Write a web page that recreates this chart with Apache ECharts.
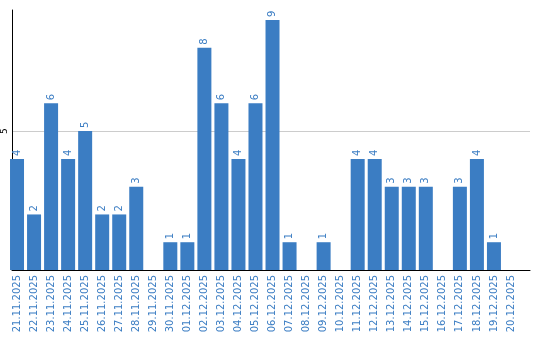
<!DOCTYPE html>
<html><head><meta charset="utf-8">
<script src="https://cdn.jsdelivr.net/npm/echarts@6/dist/echarts.min.js"></script>
<style>html,body{margin:0;padding:0;background:#fff}#c{width:540px;height:340px}</style>
</head><body><div id="c"></div>
<script>
const categories = ['21.11.2025','22.11.2025','23.11.2025','24.11.2025','25.11.2025','26.11.2025','27.11.2025','28.11.2025','29.11.2025','30.11.2025','01.12.2025','02.12.2025','03.12.2025','04.12.2025','05.12.2025','06.12.2025','07.12.2025','08.12.2025','09.12.2025','10.12.2025','11.12.2025','12.12.2025','13.12.2025','14.12.2025','15.12.2025','16.12.2025','17.12.2025','18.12.2025','19.12.2025','20.12.2025'];
const values = [4,2,6,4,5,2,2,3,0,1,1,8,6,4,6,9,1,0,1,0,4,4,3,3,3,0,3,4,1,0];
const yTicks = [5];

const blue = '#3b7dc3';
const font = 'DejaVu Sans';
const chart = echarts.init(document.getElementById('c'), null, {renderer:'canvas'});
chart.setOption({
  animation: false,
  grid: [
    {left: 10, right: 10, top: 10, bottom: 70},
    {left: 8.5, right: 20.5, top: 10, bottom: 70}
  ],
  xAxis: [
    {type:'value', gridIndex:0, min:0, max:1, axisLine:{show:true, onZero:false, lineStyle:{color:'#000', width:1}},
     axisTick:{show:false}, axisLabel:{show:false}, splitLine:{show:false}},
    {type:'category', gridIndex:1, data: categories, axisLine:{show:false}, axisTick:{show:false},
     axisLabel:{interval:0, rotate:90, color: blue, fontFamily: font, fontSize: 10, margin: 5}}
  ],
  yAxis: [
    {type:'value', gridIndex:0, min:0, max:9.36, interval:5,
     axisLine:{show:true, lineStyle:{color:'#000', width:1}}, axisTick:{show:false},
     axisLabel:{rotate:90, color:'#000', fontFamily: font, fontSize: 9, margin: 3,
       formatter: v => yTicks.includes(v) ? String(v) : ''},
     splitLine:{show:true, showMinLine:false, showMaxLine:false, lineStyle:{color:'#cccccc', width:1}}},
    {type:'value', gridIndex:1, min:0, max:9.36, show:false, splitLine:{show:false}}
  ],
  series: [{
    type:'bar', xAxisIndex:1, yAxisIndex:1, data: values, barWidth: 14,
    itemStyle:{color: blue},
    label:{show:true, position:'top', rotate:90, align:'left', verticalAlign:'middle', distance:3,
      color: blue, fontFamily: font, fontSize: 10,
      formatter: p => p.value ? String(p.value) : ''}
  }]
});
</script></body></html>
